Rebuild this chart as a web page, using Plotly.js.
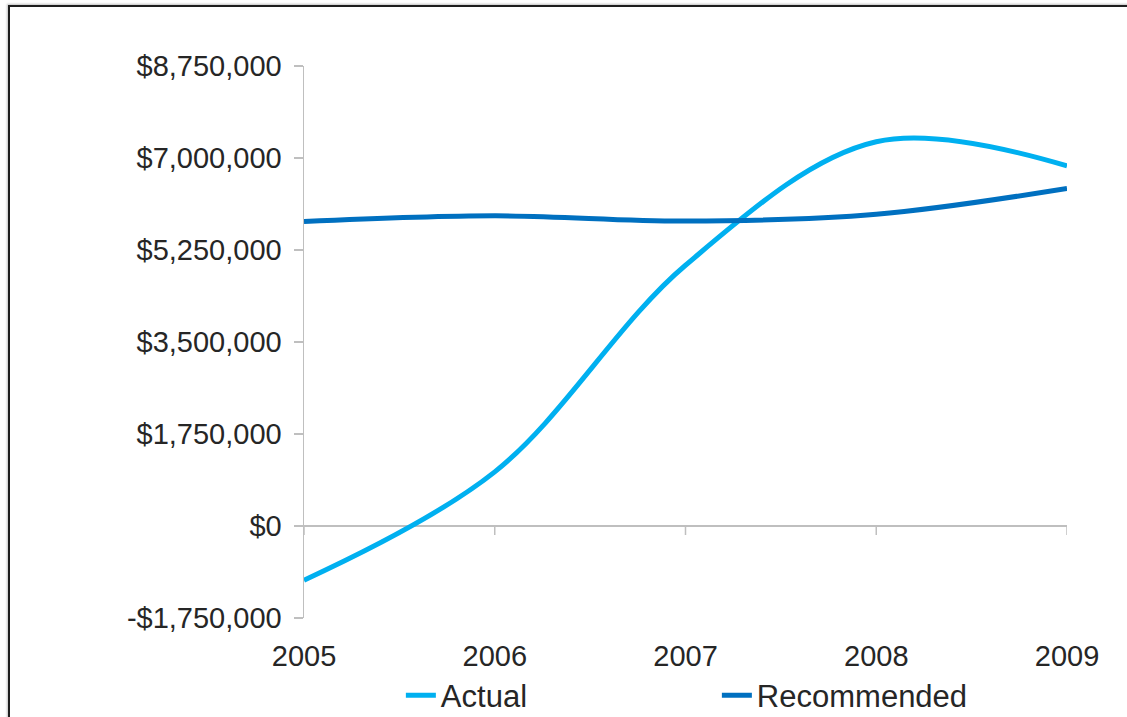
<!DOCTYPE html>
<html>
<head>
<meta charset="utf-8">
<script src="https://cdn.plot.ly/plotly-3.0.1.min.js"></script>
<style>
  html, body { margin: 0; padding: 0; background: #ffffff; }
  #chart { position: absolute; left: 0; top: 0; width: 1127px; height: 717px; }
  #frame { position: absolute; left: 8px; top: 5px; width: 1130px; height: 730px;
           border-left: 2px solid #1e1e1e; border-top: 2px solid #1e1e1e;
           box-shadow: -1px -1px 2px rgba(0,0,0,0.25); pointer-events: none; }
</style>
</head>
<body>
<div id="chart"></div>
<div id="frame"></div>
<script>
// ---- data ----
const years = [2005, 2006, 2007, 2008, 2009];
const actual = [-1030000, 1030000, 4960000, 7310000, 6850000];
const recommended = [5790000, 5900000, 5800000, 5930000, 6420000];
const yTickVals = [-1750000, 0, 1750000, 3500000, 5250000, 7000000, 8750000];
const yTickText = ['-$1,750,000', '$0', '$1,750,000', '$3,500,000', '$5,250,000', '$7,000,000', '$8,750,000'];
const seriesNames = ['Actual', 'Recommended'];
const seriesColors = ['#00B0F0', '#0070C0'];

const axisGray = '#BFBFBF';
const fontFam = '"Liberation Sans", Arial, sans-serif';

const traces = [actual, recommended].map((vals, i) => ({
  x: years,
  y: vals,
  name: seriesNames[i],
  type: 'scatter',
  mode: 'lines',
  line: { color: seriesColors[i], width: 5, shape: 'spline', smoothing: 1 }
}));

// tick marks hanging down from the zero line at each category
const tickShapes = years.map(yr => ({
  type: 'line', xref: 'x', yref: 'y', ysizemode: 'pixel', yanchor: 0,
  x0: yr, x1: yr, y0: 0, y1: -9,
  line: { color: axisGray, width: 1.5 }
}));

const layout = {
  width: 1127, height: 717,
  margin: { l: 304, r: 60, t: 66, b: 99 },
  paper_bgcolor: '#ffffff', plot_bgcolor: '#ffffff',
  font: { family: fontFam, size: 29, color: '#262626' },
  showlegend: true,
  legend: {
    orientation: 'h', xref: 'container', yref: 'container',
    x: 0.3557, xanchor: 'left', y: 0.03, yanchor: 'middle',
    entrywidth: 271, font: { size: 31, color: '#262626' },
    itemwidth: 30, tracegroupgap: 0, bgcolor: 'rgba(0,0,0,0)'
  },
  xaxis: {
    type: 'linear', range: [2005, 2009],
    tickvals: years, ticktext: years.map(String),
    showgrid: false, zeroline: false, showline: false, ticks: '',
    ticklabelstandoff: 18, fixedrange: true
  },
  yaxis: {
    range: [-1750000, 8750000],
    tickvals: yTickVals, ticktext: yTickText,
    showgrid: false, showline: true, linecolor: axisGray, linewidth: 1.5,
    ticks: 'outside', ticklen: 9, tickcolor: axisGray, tickwidth: 1.5,
    zeroline: true, zerolinecolor: axisGray, zerolinewidth: 1.5,
    ticklabelstandoff: 6, fixedrange: true
  },
  shapes: tickShapes
};

Plotly.newPlot('chart', traces, layout, { displayModeBar: false, staticPlot: true });
</script>
</body>
</html>
